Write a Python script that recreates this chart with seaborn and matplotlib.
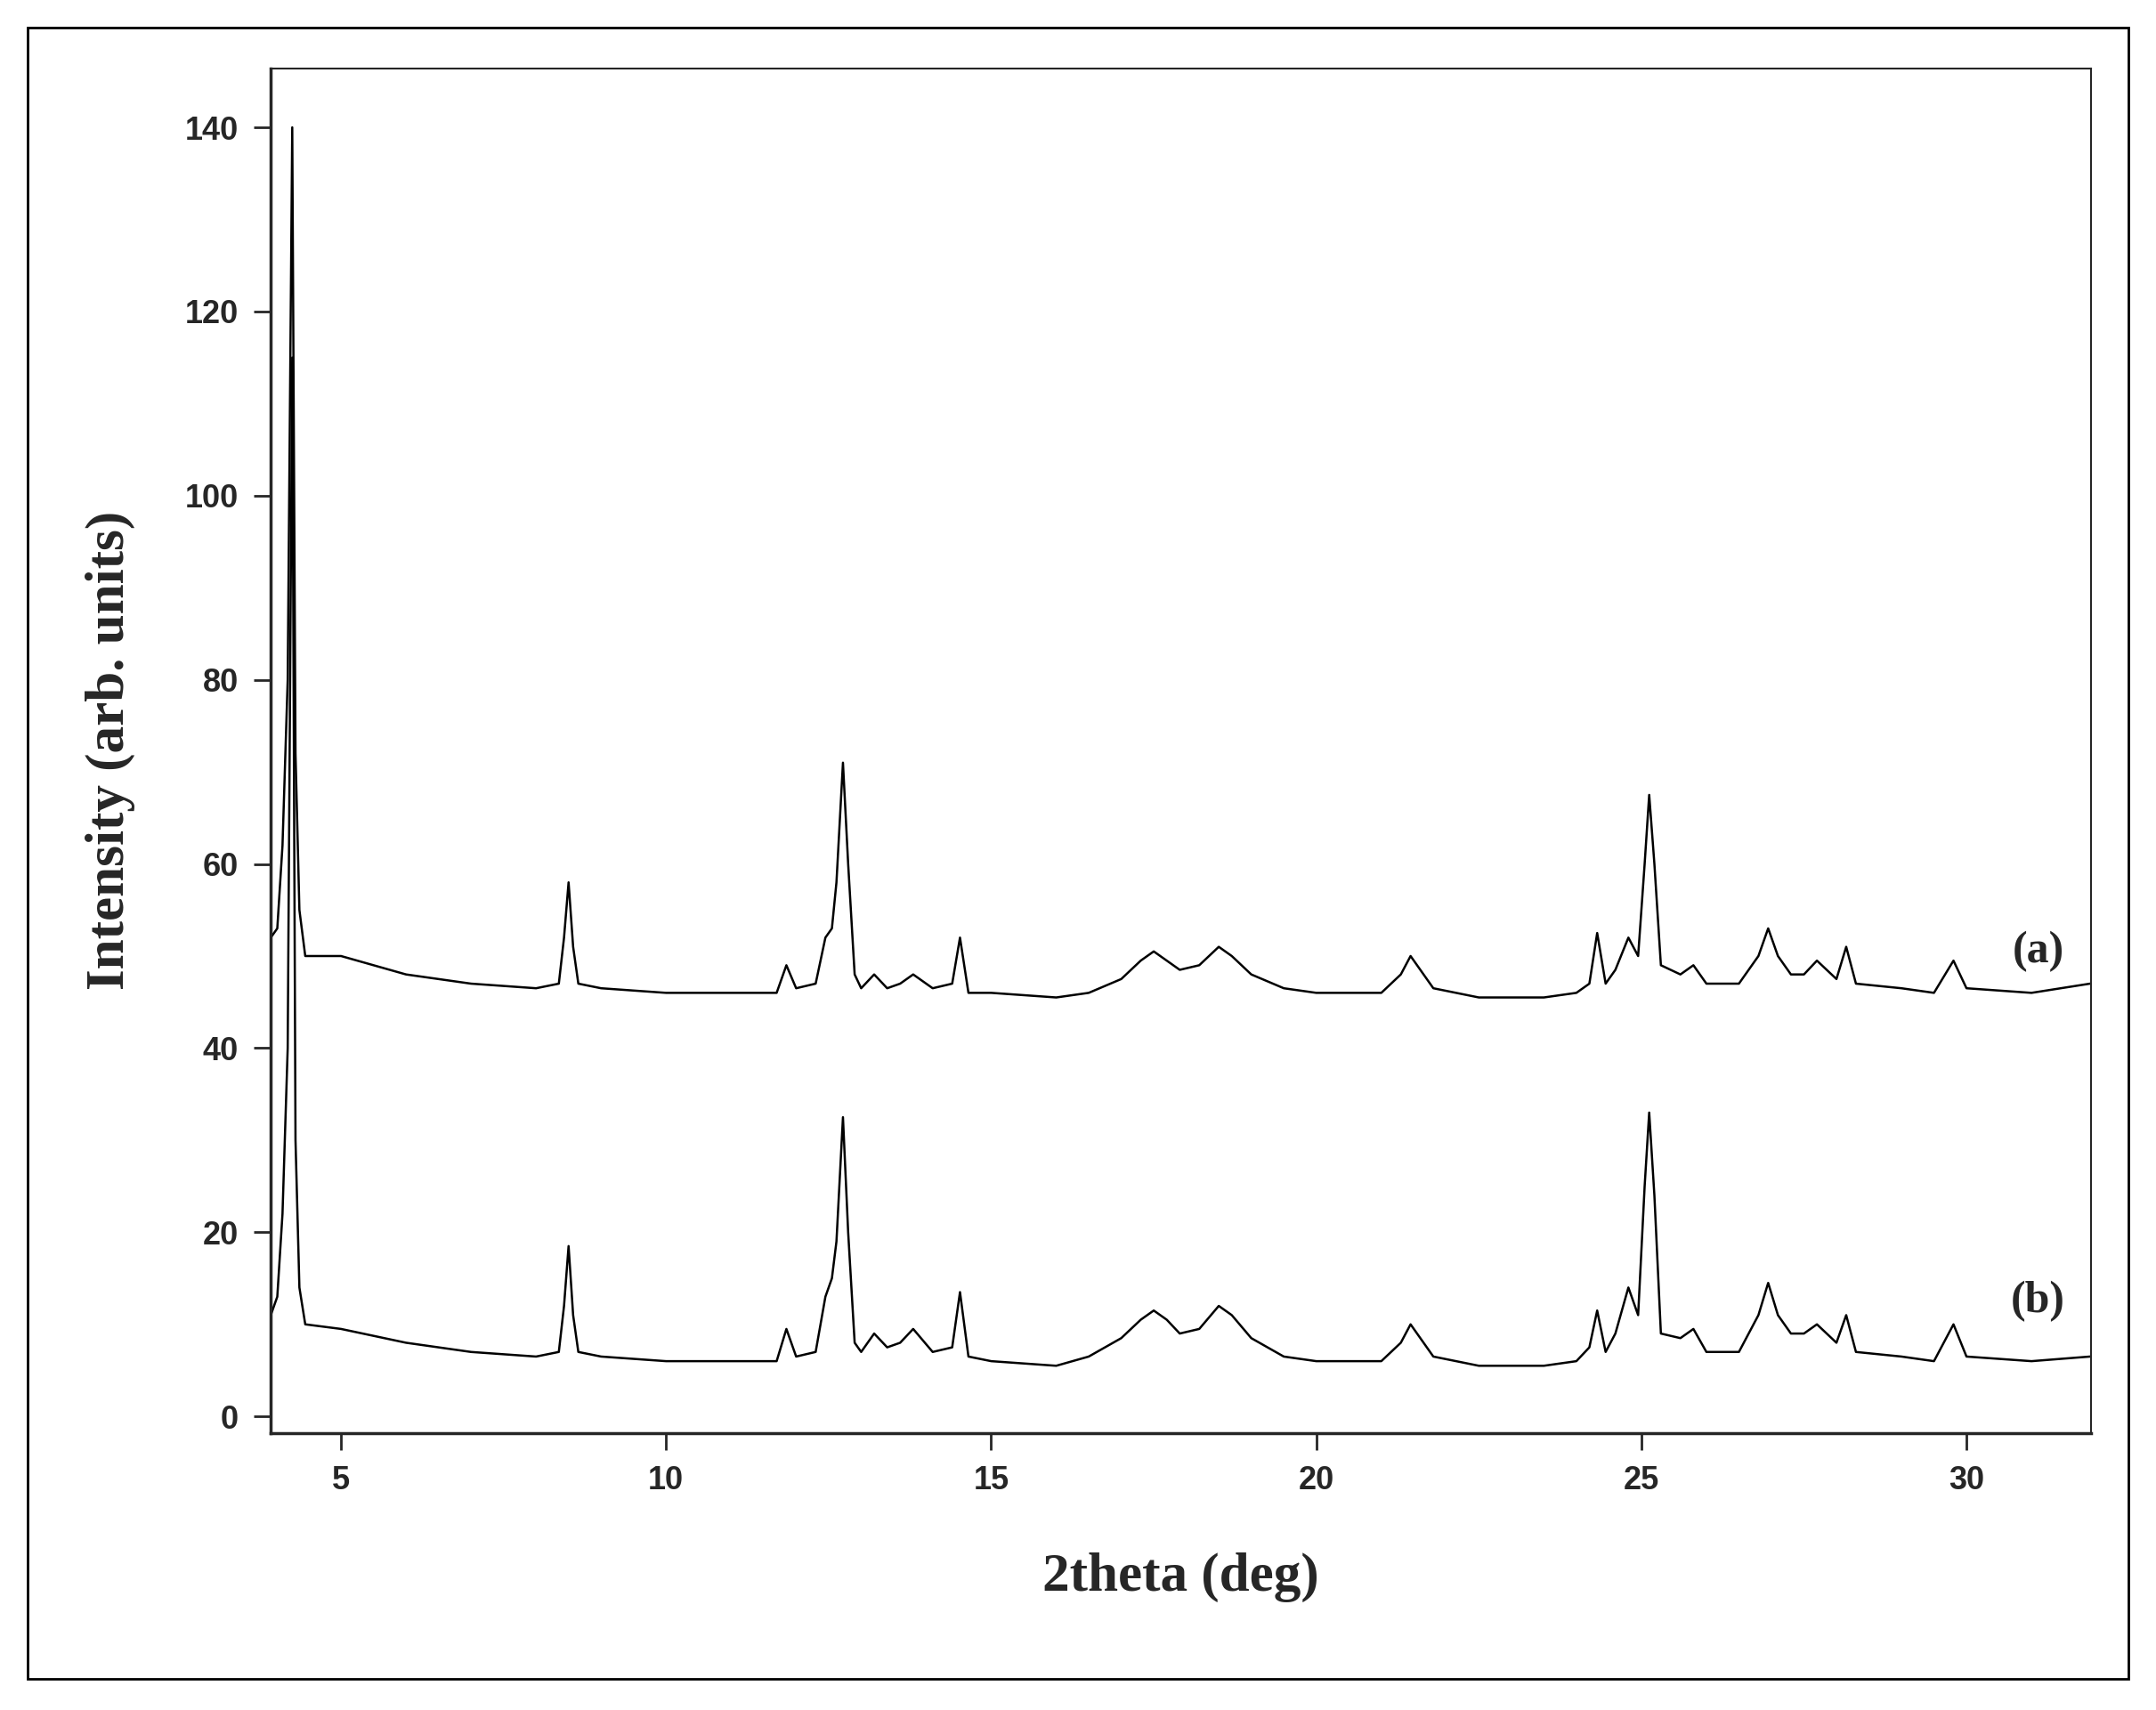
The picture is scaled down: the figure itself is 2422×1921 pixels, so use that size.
import matplotlib
matplotlib.use("Agg")
import matplotlib.pyplot as plt
import seaborn as sns
import pandas as pd

two_theta_a = [3.92, 4.02, 4.1, 4.18, 4.25, 4.3, 4.36, 4.45, 5, 6, 7, 8, 8.35, 8.43, 8.5, 8.57, 8.65, 9, 10,
               11, 11.7, 11.85, 12.0, 12.3, 12.45, 12.55, 12.62, 12.72, 12.8, 12.9, 13.0, 13.2, 13.4,
               13.6, 13.8, 14.1, 14.4, 14.52, 14.65, 15, 16, 16.5, 17.0, 17.3, 17.5, 17.7, 17.9, 18.2,
               18.5, 18.7, 19.0, 19.5, 20, 21, 21.3, 21.45, 21.6, 21.8, 22.5, 23.5, 24.0, 24.2, 24.32,
               24.45, 24.6, 24.8, 24.95, 25.05, 25.12, 25.2, 25.3, 25.6, 25.8, 26.0, 26.5, 26.8, 26.95,
               27.1, 27.3, 27.5, 27.7, 28.0, 28.15, 28.3, 29, 29.5, 29.8, 30.0, 31, 31.9]
intensity_a = [52, 53, 62, 80, 140, 72, 55, 50, 50, 48, 47, 46.5, 47, 52, 58, 51, 47, 46.5, 46,
               46, 46, 49, 46.5, 47, 52, 53, 58, 71, 60, 48, 46.5, 48, 46.5,
               47, 48, 46.5, 47, 52, 46, 46, 45.5, 46, 47.5, 49.5, 50.5, 49.5, 48.5, 49,
               51, 50, 48, 46.5, 46, 46, 48, 50, 48.5, 46.5, 45.5, 45.5, 46, 47, 52.5,
               47, 48.5, 52, 50, 60, 67.5, 60, 49, 48, 49, 47, 47, 50, 53,
               50, 48, 48, 49.5, 47.5, 51, 47, 46.5, 46, 49.5, 46.5, 46, 47]

two_theta_b = two_theta_a
intensity_b = [11, 13, 22, 40, 115, 30, 14, 10, 9.5, 8, 7, 6.5, 7, 12, 18.5, 11, 7, 6.5, 6,
               6, 6, 9.5, 6.5, 7, 13, 15, 19, 32.5, 20, 8, 7, 9, 7.5,
               8, 9.5, 7, 7.5, 13.5, 6.5, 6, 5.5, 6.5, 8.5, 10.5, 11.5, 10.5, 9, 9.5,
               12, 11, 8.5, 6.5, 6, 6, 8, 10, 8.5, 6.5, 5.5, 5.5, 6, 7.5, 11.5,
               7, 9, 14, 11, 25, 33, 24, 9, 8.5, 9.5, 7, 7, 11, 14.5,
               11, 9, 9, 10, 8, 11, 7, 6.5, 6, 10, 6.5, 6, 6.5]

sns.set_style("ticks")
fig = plt.figure(figsize=(24.22, 19.21), dpi=100)
ax = fig.add_axes([0.1256, 0.162, 0.8444, 0.798])

df = pd.concat([pd.DataFrame({"x": two_theta_a, "y": intensity_a, "s": "a"}),
                pd.DataFrame({"x": two_theta_b, "y": intensity_b, "s": "b"})])
sns.lineplot(data=df, x="x", y="y", units="s", estimator=None, color="black",
             linewidth=1.8, sort=False, ax=ax, legend=False)

ax.set_xlim(3.92, 31.92)
ax.set_ylim(-1.8, 146.4)
ax.set_xticks([5, 10, 15, 20, 25, 30])
ax.set_yticks(range(0, 141, 20))
ax.tick_params(direction="out", length=14, width=2, labelsize=26, pad=12)
for lab in ax.get_xticklabels() + ax.get_yticklabels():
    lab.set_fontweight("bold")
    lab.set_family("Liberation Sans")
for s in ax.spines.values():
    s.set_visible(True)
    s.set_linewidth(1.5)
ax.spines["left"].set_linewidth(2.5)
ax.spines["bottom"].set_linewidth(2.5)

ax.set_xlabel("2theta (deg)", family="Liberation Serif", fontweight="bold", fontsize=44, labelpad=45)
ax.set_ylabel("Intensity (arb. units)", family="Liberation Serif", fontweight="bold", fontsize=44, labelpad=40)
ax.text(31.1, 50.5, "(a)", family="Liberation Serif", fontweight="bold", fontsize=36, ha="center", va="center")
ax.text(31.1, 12.5, "(b)", family="Liberation Serif", fontweight="bold", fontsize=36, ha="center", va="center")

fig.add_artist(plt.Rectangle((0.0128, 0.018), 0.9742, 0.966, transform=fig.transFigure,
                             fill=False, edgecolor="black", linewidth=2))

fig.savefig("out.png", dpi=100)
